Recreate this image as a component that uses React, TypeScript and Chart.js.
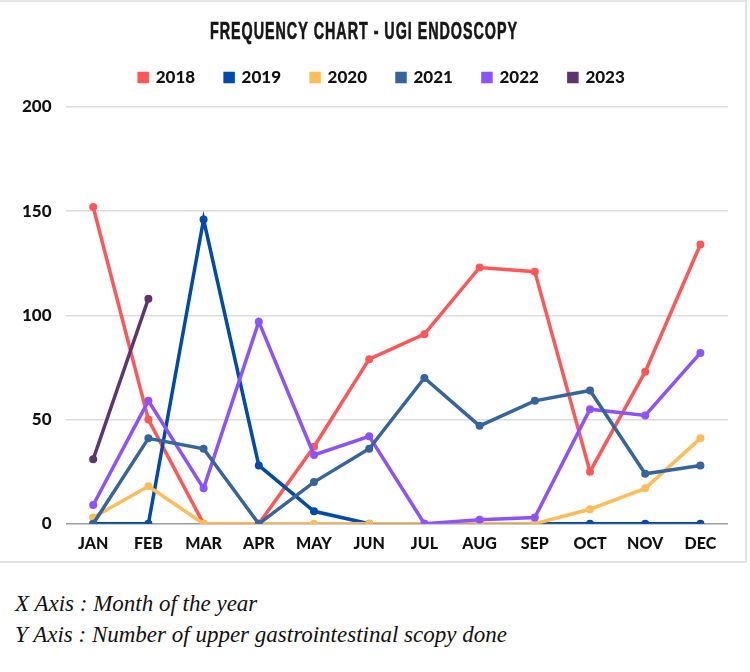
import React, { useEffect, useRef } from 'react';
import { Chart, registerables } from 'chart.js';

Chart.register(...registerables);

// Monthly counts of upper GI endoscopies, per year
const months = ['JAN', 'FEB', 'MAR', 'APR', 'MAY', 'JUN', 'JUL', 'AUG', 'SEP', 'OCT', 'NOV', 'DEC'];
const years = ['2018', '2019', '2020', '2021', '2022', '2023'];
const counts2018 = [152, 50, 0, 0, 37, 79, 91, 123, 121, 25, 73, 134];
const counts2019 = [0, 0, 146, 28, 6, 0, 0, 0, 0, 0, 0, 0];
const counts2020 = [3, 18, 0, 0, 0, 0, 0, 0, 0, 7, 17, 41];
const counts2021 = [0, 41, 36, 0, 20, 36, 70, 47, 59, 64, 24, 28];
const counts2022 = [9, 59, 17, 97, 33, 42, 0, 2, 3, 55, 52, 82];
const counts2023 = [31, 108];
const yMin = 0;
const yMax = 200;
const yStep = 50;

const seriesColors = ['#ff5757', '#004aad', '#ffbd59', '#36649c', '#8c52ff', '#5b3470'];
// lower order is painted on top
const seriesOrder = [5, 4, 3, 1, 2, 0];

const titleText = 'FREQUENCY CHART - UGI ENDOSCOPY';

const condensedTitle = {
  id: 'condensedTitle',
  afterDraw(chart: any) {
    const ctx = chart.ctx as CanvasRenderingContext2D;
    ctx.save();
    ctx.font = 'bold 22px "Liberation Sans Narrow", "Liberation Sans", sans-serif';
    (ctx as any).letterSpacing = '1.5px';
    ctx.fillStyle = '#161616';
    ctx.strokeStyle = '#161616';
    ctx.lineWidth = 0.6;
    ctx.textBaseline = 'middle';
    ctx.textAlign = 'center';
    const w = ctx.measureText(titleText).width;
    const sx = 308 / w;
    ctx.translate(chart.width / 2 - 9.5, 32);
    ctx.scale(sx, 1.1);
    ctx.fillText(titleText, 0, 0);
    ctx.strokeText(titleText, 0, 0);
    ctx.restore();
  },
};

// places the legend row just under the title, slightly right of centre
const legendNudge = {
  id: 'legendNudge',
  afterLayout(chart: any) {
    const lg = chart.legend;
    if (lg) {
      lg.left += 14;
      lg.right += 14;
      lg.top -= 11;
      lg.bottom -= 11;
    }
  },
};

const tickFont = { family: 'Lato, "Liberation Sans", sans-serif', size: 16, weight: 900 as any };
const yTickFont = { family: 'Lato, "Liberation Sans", sans-serif', size: 17, weight: 900 as any };
const legendFont = { family: 'Lato, "Liberation Sans", sans-serif', size: 17, weight: 900 as any };

export default function App() {
  const canvasRef = useRef<HTMLCanvasElement | null>(null);

  useEffect(() => {
    if (!canvasRef.current) return;
    const seriesData = [counts2018, counts2019, counts2020, counts2021, counts2022, counts2023];
    const chart = new Chart(canvasRef.current, {
      type: 'line',
      data: {
        labels: months,
        datasets: years.map((year, i) => ({
          label: year,
          data: seriesData[i],
          borderColor: seriesColors[i],
          backgroundColor: seriesColors[i],
          pointBackgroundColor: seriesColors[i],
          pointBorderColor: seriesColors[i],
          borderWidth: 3.5,
          pointRadius: 4,
          pointBorderWidth: 0,
          tension: 0,
          fill: false,
          order: seriesOrder[i],
        })),
      },
      plugins: [condensedTitle, legendNudge],
      options: {
        responsive: false,
        animation: false,
        layout: { padding: { top: 39, left: 8, right: 19, bottom: 0 } },
        plugins: {
          title: { display: false },
          tooltip: { enabled: false },
          legend: {
            position: 'top',
            labels: {
              boxWidth: 8,
              boxHeight: 8,
              padding: 30,
              color: '#111',
              font: legendFont,
              sort: (a: any, b: any) => a.datasetIndex - b.datasetIndex,
            },
          },
        },
        scales: {
          x: {
            offset: true,
            grid: { display: false, drawTicks: false },
            border: { display: false },
            ticks: { padding: 10, color: '#111', font: tickFont, maxRotation: 0, autoSkip: false },
          },
          y: {
            min: yMin,
            max: yMax,
            ticks: { stepSize: yStep, padding: 14, color: '#111', font: yTickFont },
            grid: {
              drawTicks: false,
              lineWidth: 1.5,
              color: (c: any) => (c.tick && c.tick.value === 0 ? '#9c9c9c' : '#dcdcdc'),
            },
            border: { display: false },
            afterFit: (scale: any) => {
              // keep the plot top clear of the legend row
              scale.paddingTop = 107;
            },
          },
        },
      },
    } as any);
    return () => chart.destroy();
  }, []);

  const captionStyle: React.CSSProperties = {
    position: 'absolute',
    left: 15,
    fontFamily: '"Liberation Serif", serif',
    fontStyle: 'italic',
    fontSize: 23,
    lineHeight: '23px',
    color: '#111',
    whiteSpace: 'nowrap',
  };

  return (
    <div style={{ position: 'absolute', left: 0, top: 0, width: 750, height: 672, background: '#fff' }}>
      <div
        style={{
          position: 'absolute',
          left: 0,
          top: 0,
          width: 747,
          height: 563,
          borderTop: '2px solid #e4e4e4',
          borderRight: '2px solid #e4e4e4',
          borderBottom: '2px solid #e4e4e4',
          boxSizing: 'border-box',
        }}
      />
      <canvas ref={canvasRef} width={747} height={563} style={{ position: 'absolute', left: 0, top: 0 }} />
      <div style={{ ...captionStyle, top: 592 }}>X Axis : Month of the year</div>
      <div style={{ ...captionStyle, top: 623 }}>Y Axis : Number of upper gastrointestinal scopy done</div>
    </div>
  );
}
